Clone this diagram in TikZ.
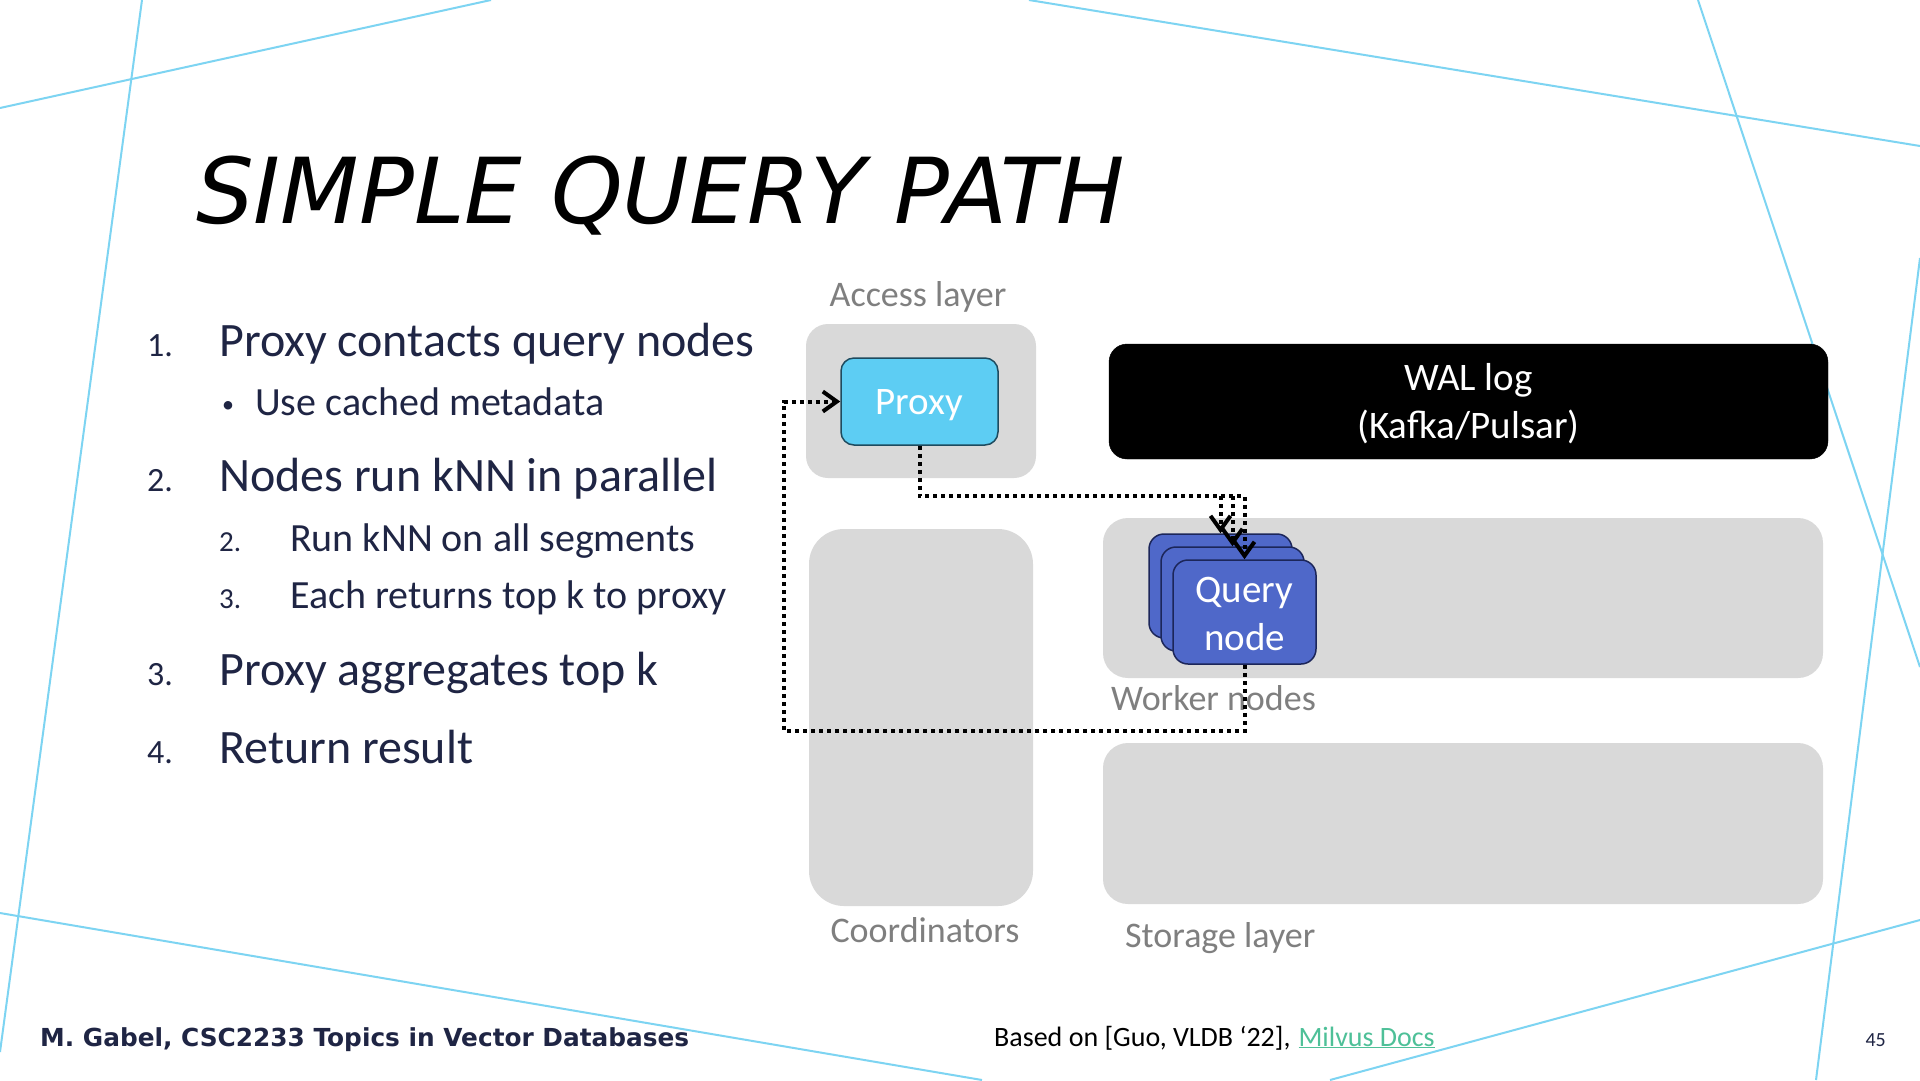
\documentclass[tikz,border=0pt]{standalone}
\usepackage{fontspec}
\setmainfont{Carlito}
\newfontfamily\dejavu{DejaVu Sans}
\usetikzlibrary{arrows.meta}
\definecolor{navy}{RGB}{31,37,68}
\definecolor{bgline}{RGB}{125,212,242}
\definecolor{panel}{RGB}{217,217,217}
\definecolor{proxyfill}{RGB}{93,205,243}
\definecolor{proxyborder}{RGB}{30,75,95}
\definecolor{qfill}{RGB}{79,104,201}
\definecolor{qborder}{RGB}{28,38,90}
\definecolor{labelgray}{RGB}{127,127,127}
\definecolor{linkgreen}{RGB}{78,192,152}
\begin{document}
\begin{tikzpicture}[x=1pt,y=-1pt,
  bgl/.style={draw=bgline, line width=2pt},
  panelbox/.style={fill=panel, draw=none, inner sep=0pt, rounded corners=#1},
  boxtext/.style={text=white, align=center, inner sep=0pt, font=\fontsize{39}{48}\selectfont},
  qbox/.style={fill=qfill, draw=qborder, line width=1.5pt, rounded corners=15pt, inner sep=0pt,
     minimum width=143pt, minimum height=104pt},
  layerlabel/.style={text=labelgray, inner sep=0pt, anchor=base, font=\fontsize{36}{43}\selectfont},
  num1/.style={anchor=base west, inner sep=0pt, text=navy, font=\fontsize{34}{40}\selectfont},
  item1/.style={anchor=base west, inner sep=0pt, text=navy, font=\fontsize{48}{58}\selectfont},
  num2/.style={anchor=base west, inner sep=0pt, text=navy, font=\fontsize{29}{35}\selectfont},
  item2/.style={anchor=base west, inner sep=0pt, text=navy, font=\fontsize{40}{48}\selectfont},
  dotline/.style={line width=4pt, dash pattern=on 4pt off 4pt, draw=black},
  tip/.style={-{Straight Barb[length=14pt,width=20pt]}}
]
\useasboundingbox (0,0) rectangle (1920,1080);
\fill[white] (0,0) rectangle (1920,1080);
% background lines
\draw[bgl] (0,108) -- (491,0);
\draw[bgl] (142,0) -- (0,1052);
\draw[bgl] (0,913) -- (982,1080);
\draw[bgl] (1029,0) -- (1920,146);
\draw[bgl] (1698,0) -- (1920,667);
\draw[bgl] (1920,258) -- (1816,1080);
\draw[bgl] (1330,1080) -- (1920,920);

% title
\node[anchor=base west, inner sep=0pt, font=\dejavu\itshape\fontsize{91}{108}\selectfont] (title) at (196,223) {SIMPLE QUERY PATH};

% list
\node[num1] (n1) at (147,356) {1.};
\node[item1] (t1) at (219,356) {Proxy contacts query nodes};
\node[anchor=base west, inner sep=0pt, text=navy, font=\fontsize{24}{30}\selectfont] (b1) at (222,412) {•};
\node[item2] (t1a) at (255,415) {Use cached metadata};
\node[num1] (n2) at (147,491) {2.};
\node[item1] (t2) at (219,491) {Nodes run kNN in parallel};
\node[num2] (n2a) at (219,551) {2.};
\node[item2] (t2a) at (290,551) {Run kNN on all segments};
\node[num2] (n2b) at (219,608) {3.};
\node[item2] (t2b) at (290,608) {Each returns top k to proxy};
\node[num1] (n3) at (147,685) {3.};
\node[item1] (t3) at (219,685) {Proxy aggregates top k};
\node[num1] (n4) at (147,763) {4.};
\node[item1] (t4) at (219,763) {Return result};

% panels
\node[panelbox=22pt, minimum width=230pt, minimum height=154pt] (access) at (921,401) {};
\node[panelbox=35pt, minimum width=224pt, minimum height=377pt] (coord) at (921,717.5) {};
\node[panelbox=25pt, minimum width=720pt, minimum height=160pt] (worker) at (1463,598) {};
\node[panelbox=25pt, minimum width=720pt, minimum height=161pt] (storage) at (1463,823.5) {};

\node[layerlabel] (accesslbl) at (918,306) {Access layer};
\node[layerlabel] (coordlbl) at (925,942) {Coordinators};
\node[layerlabel, anchor=base west] (workerlbl) at (1111,710) {Worker nodes};
\node[layerlabel, anchor=base west] (storagelbl) at (1125,947) {Storage layer};

% proxy & WAL
\node[fill=proxyfill, draw=proxyborder, line width=1.5pt, rounded corners=13pt, inner sep=0pt,
      minimum width=157pt, minimum height=87pt] (proxy) at (919.5,401.5) {};
\node[boxtext] (proxytext) at ([yshift=-4pt]proxy.center) {Proxy};
\node[fill=black, draw=black, rounded corners=18pt, inner sep=0pt,
      minimum width=719pt, minimum height=115pt] (wal) at (1468.5,401.5) {};
\node[boxtext] (waltext) at ([yshift=-2.5pt]wal.center) {WAL log\\(Kafka/Pulsar)};

% query node stack
\node[qbox] (qback) at (1220.5,586) {};
\node[qbox] (qmid) at (1232.5,599) {};
\node[qbox] (qfront) at (1244.5,612) {};
\node[boxtext] (qtext) at ([yshift=-1.5pt]qfront.center) {Query\\node};

% connectors
\coordinate (turn) at (1244.5,496);
\coordinate (ret) at (784,731);
\draw[dotline, tip] (proxy.south) |- (turn) -- (qfront.north);
\draw[dotline, tip] (qmid.north |- turn) -- (qmid.north);
\draw[dotline, tip] (qback.north |- turn) -- (qback.north);
\draw[dotline, tip] (qfront.south) |- (ret) |- (proxy.west);

% footer
\node[anchor=base west, inner sep=0pt, text=navy, font=\dejavu\bfseries\fontsize{24.8}{30}\selectfont] (foot) at (40,1046) {M. Gabel, CSC2233 Topics in Vector Databases};
\node[anchor=base west, inner sep=0pt, font=\fontsize{28}{34}\selectfont] (src) at (994,1046) {Based on [Guo, VLDB ‘22],\hspace{8pt}\textcolor{linkgreen}{\underline{Milvus Docs}}};
\node[anchor=base east, inner sep=0pt, text=navy, font=\fontsize{20}{24}\selectfont] (pg) at (1886,1046) {45};
\end{tikzpicture}
\end{document}
